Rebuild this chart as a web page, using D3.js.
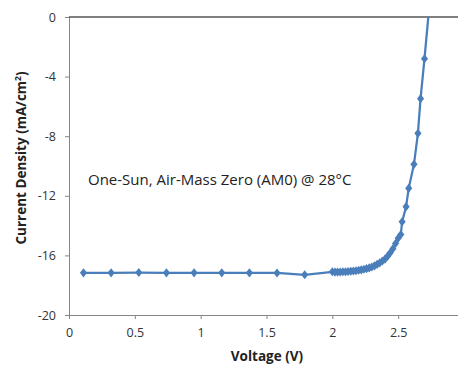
<!DOCTYPE html>
<html>
<head>
<meta charset="utf-8">
<script src="https://cdn.jsdelivr.net/npm/d3@7"></script>
<style>
  body { margin: 0; background: #fff; }
  svg { display: block; }
</style>
</head>
<body>
<svg id="chart" width="458" height="365"></svg>
<script>
// voltage (V) and current density (mA/cm^2)
const voltage = [
  0.11, 0.32, 0.53, 0.74, 0.95, 1.16, 1.37, 1.58, 1.79,
  2.00, 2.02, 2.04, 2.06, 2.08, 2.10, 2.12, 2.14, 2.16, 2.18,
  2.20, 2.22, 2.24, 2.26, 2.28, 2.30, 2.32, 2.34, 2.36, 2.38,
  2.40, 2.42, 2.44, 2.46, 2.48, 2.50, 2.52, 2.53, 2.56, 2.58,
  2.62, 2.65, 2.67, 2.70, 2.735
];
const current = [
  -17.17, -17.17, -17.15, -17.17, -17.17, -17.17, -17.17, -17.18, -17.3,
  -17.10, -17.12, -17.12, -17.11, -17.10, -17.10, -17.08, -17.06, -17.05, -17.03,
  -17.00, -16.97, -16.93, -16.89, -16.84, -16.78, -16.70, -16.60, -16.50, -16.38,
  -16.25, -16.05, -15.82, -15.55, -15.20, -14.85, -14.60, -13.74, -12.73, -11.50,
  -9.89, -7.81, -5.48, -2.80, 0.6
];
const xTicks = [0, 0.5, 1, 1.5, 2, 2.5];
const yTicks = [0, -4, -8, -12, -16, -20];
const note = "One-Sun, Air-Mass Zero (AM0) @ 28\u00B0C";

const points = voltage.map((v, i) => ({ v: v, j: current[i] }));

const svg = d3.select("#chart");
const margin = { left: 69, top: 17 };
const plotW = 395, plotH = 298;

const x = d3.scaleLinear().domain([0, 3]).range([0, plotW]);
const y = d3.scaleLinear().domain([-20, 0]).range([plotH, 0]);

const g = svg.append("g")
  .attr("transform", "translate(" + margin.left + "," + margin.top + ")");

// clip so the curve stops at the top axis (J = 0)
svg.append("defs").append("clipPath")
  .attr("id", "plot-area")
  .append("rect")
  .attr("x", -10).attr("y", 0)
  .attr("width", plotW + 20).attr("height", plotH + 10);

const fontStack = "'Open Sans', 'Noto Sans', sans-serif";

// bottom axis (gray, labels at the bottom)
const xAxis = g.append("g")
  .attr("transform", "translate(0," + plotH + ")")
  .call(d3.axisBottom(x).tickValues(xTicks).tickSize(4).tickSizeOuter(0)
    .tickFormat(d => String(d)));
xAxis.select(".domain").attr("stroke", "#868686");
xAxis.selectAll(".tick line").attr("stroke", "#868686");
xAxis.selectAll(".tick text")
  .attr("y", 13)
  .attr("fill", "#333")
  .style("font-family", fontStack)
  .style("font-size", "12.5px");

// left axis
const yAxis = g.append("g")
  .call(d3.axisLeft(y).tickValues(yTicks).tickSize(4).tickSizeOuter(0)
    .tickFormat(d => String(d)));
yAxis.select(".domain").attr("stroke", "#868686");
yAxis.selectAll(".tick line").attr("stroke", "#868686");
yAxis.selectAll(".tick text")
  .attr("x", -13)
  .attr("fill", "#333")
  .style("font-family", fontStack)
  .style("font-size", "12.5px");

// horizontal line at J = 0
g.append("line")
  .attr("x1", 0).attr("x2", plotW)
  .attr("y1", y(0)).attr("y2", y(0))
  .attr("stroke", "#000")
  .attr("stroke-width", 1);

// the curve
const line = d3.line()
  .x(d => x(d.v))
  .y(d => y(d.j));

const curve = g.append("g").attr("clip-path", "url(#plot-area)");
curve.append("path")
  .datum(points)
  .attr("d", line)
  .attr("fill", "none")
  .attr("stroke", "#4A7EBB")
  .attr("stroke-width", 2.25);

// diamond markers, slightly taller than wide
curve.selectAll(".marker")
  .data(points)
  .join("path")
  .attr("class", "marker")
  .attr("transform", d => "translate(" + x(d.v) + "," + y(d.j) + ") scale(0.9,1.15)")
  .attr("d", d3.symbol().type(d3.symbolDiamond2).size(40))
  .attr("fill", "#4A7EBB");

// annotation
svg.append("text")
  .attr("x", 88).attr("y", 185)
  .attr("fill", "#222")
  .style("font-family", fontStack)
  .style("font-size", "15px")
  .text(note);

// axis titles
svg.append("text")
  .attr("x", 267).attr("y", 361)
  .attr("text-anchor", "middle")
  .attr("fill", "#222")
  .style("font-family", fontStack)
  .style("font-size", "13.5px")
  .style("font-weight", "bold")
  .text("Voltage (V)");

const yTitle = svg.append("text")
  .attr("transform", "translate(26,158) rotate(-90)")
  .attr("text-anchor", "middle")
  .attr("fill", "#222")
  .style("font-family", fontStack)
  .style("font-size", "13.5px")
  .style("font-weight", "bold");
yTitle.append("tspan").text("Current Density (mA/cm");
yTitle.append("tspan").attr("dy", -5).style("font-size", "8.5px").text("2");
yTitle.append("tspan").attr("dy", 5).text(")");
</script>
</body>
</html>
